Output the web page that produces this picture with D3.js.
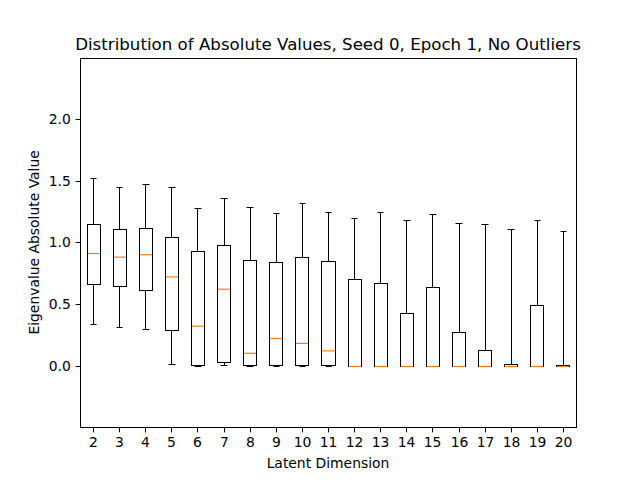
<!DOCTYPE html>
<html lang="en">
<head>
<meta charset="UTF-8">
<title>Distribution of Absolute Values</title>
<script src="https://d3js.org/d3.v7.min.js"></script>
<style>
  html, body { margin: 0; padding: 0; background: #fff; }
  text { font-family: "DejaVu Sans", sans-serif; fill: #000; }
</style>
</head>
<body>
<svg id="chart" width="640" height="480"></svg>
<script>
// latent dimensions on the x axis
const dims = [2, 3, 4, 5, 6, 7, 8, 9, 10, 11, 12, 13, 14, 15, 16, 17, 18, 19, 20];
// box statistics
const whiskerHigh = [1.52, 1.45, 1.47, 1.45, 1.28, 1.36, 1.29, 1.24, 1.32, 1.25, 1.20, 1.25, 1.18, 1.23, 1.16, 1.15, 1.11, 1.18, 1.09];
const q3          = [1.15, 1.11, 1.12, 1.04, 0.93, 0.98, 0.86, 0.84, 0.88, 0.85, 0.70, 0.67, 0.43, 0.64, 0.27, 0.13, 0.014, 0.49, 0.006];
const medians     = [0.91, 0.88, 0.90, 0.72, 0.32, 0.62, 0.10, 0.22, 0.18, 0.12, 0, 0, 0, 0, 0, 0, 0, 0, 0];
const q1          = [0.66, 0.65, 0.61, 0.29, 0.005, 0.03, 0.003, 0.003, 0.003, 0.001, 0, 0, 0, 0, 0, 0, 0, 0, 0];
const whiskerLow  = [0.34, 0.31, 0.30, 0.01, 0, 0.005, 0, 0, 0, 0, 0, 0, 0, 0, 0, 0, 0, 0, 0];
const yTicks = [0.0, 0.5, 1.0, 1.5, 2.0];

const svg = d3.select("#chart");
const margin = {left: 80, right: 64, top: 57.6, bottom: 52.8};
const W = 640, H = 480;

const x = d3.scaleLinear().domain([0.5, dims.length + 0.5]).range([margin.left, W - margin.right]);
const y = d3.scaleLinear().domain([-0.5, 2.5]).range([H - margin.bottom, margin.top]);
// snap to pixel centres so 1px black lines stay sharp
const px = v => Math.round(x(v)) + 0.5;
const py = v => Math.round(y(v)) + 0.5;

const boxes = dims.map((d, i) => ({
  dim: d, pos: i + 1,
  lo: whiskerLow[i], q1: q1[i], med: medians[i], q3: q3[i], hi: whiskerHigh[i]
}));

const boxW = 0.5, capW = 0.25;

const g = svg.append("g");

// whiskers
g.selectAll("line.wlow").data(boxes).join("line")
  .attr("x1", d => px(d.pos)).attr("x2", d => px(d.pos))
  .attr("y1", d => py(d.q1)).attr("y2", d => py(d.lo))
  .attr("stroke", "#000").attr("stroke-width", 1);
g.selectAll("line.whigh").data(boxes).join("line")
  .attr("x1", d => px(d.pos)).attr("x2", d => px(d.pos))
  .attr("y1", d => py(d.q3)).attr("y2", d => py(d.hi))
  .attr("stroke", "#000").attr("stroke-width", 1);

// caps
["lo", "hi"].forEach(k => {
  g.selectAll("line.cap" + k).data(boxes).join("line")
    .attr("x1", d => px(d.pos - capW / 2)).attr("x2", d => px(d.pos + capW / 2))
    .attr("y1", d => py(d[k])).attr("y2", d => py(d[k]))
    .attr("stroke", "#000").attr("stroke-width", 1);
});

// boxes
g.selectAll("rect.box").data(boxes).join("rect")
  .attr("x", d => px(d.pos - boxW / 2))
  .attr("width", d => px(d.pos + boxW / 2) - px(d.pos - boxW / 2))
  .attr("y", d => py(d.q3))
  .attr("height", d => py(d.q1) - py(d.q3))
  .attr("fill", "none").attr("stroke", "#000").attr("stroke-width", 1);

// medians
g.selectAll("line.med").data(boxes).join("line")
  .attr("x1", d => px(d.pos - boxW / 2) + 0.5).attr("x2", d => px(d.pos + boxW / 2) - 0.5)
  .attr("y1", d => d.med === 0 ? py(0) : y(d.med))
  .attr("y2", d => d.med === 0 ? py(0) : y(d.med))
  .attr("stroke", "#ff7f0e").attr("stroke-width", 1.2);

// frame
svg.append("rect")
  .attr("x", Math.round(margin.left) + 0.5).attr("y", Math.round(margin.top) + 0.5)
  .attr("width", Math.round(W - margin.right) - Math.round(margin.left))
  .attr("height", Math.round(H - margin.bottom) - Math.round(margin.top))
  .attr("fill", "none").attr("stroke", "#000").attr("stroke-width", 1);

// x axis
const xAxis = svg.append("g")
  .attr("transform", `translate(0,${Math.round(H - margin.bottom) + 0.5})`)
  .call(d3.axisBottom(x).tickValues(boxes.map(d => d.pos))
    .tickFormat((v, i) => dims[i]).tickSize(4.86).tickPadding(4.86).offset(0));
xAxis.select(".domain").remove();
xAxis.selectAll(".tick").attr("transform", d => `translate(${px(d)},0)`);
xAxis.selectAll("line").attr("stroke-width", 1);
xAxis.selectAll("text").style("font-size", "13.9px").style("font-family", "DejaVu Sans, sans-serif");

// y axis
const yAxis = svg.append("g")
  .attr("transform", `translate(${Math.round(margin.left) + 0.5},0)`)
  .call(d3.axisLeft(y).tickValues(yTicks).tickFormat(d3.format(".1f")).tickSize(4.86).tickPadding(4.86).offset(0));
yAxis.select(".domain").remove();
yAxis.selectAll(".tick").attr("transform", d => `translate(0,${py(d)})`);
yAxis.selectAll("line").attr("stroke-width", 1);
yAxis.selectAll("text").style("font-size", "13.9px").style("font-family", "DejaVu Sans, sans-serif");

// title and labels
svg.append("text")
  .attr("x", (margin.left + W - margin.right) / 2).attr("y", 49.5)
  .attr("text-anchor", "middle").style("font-size", "16.67px")
  .text("Distribution of Absolute Values, Seed 0, Epoch 1, No Outliers");

svg.append("text")
  .attr("x", (margin.left + W - margin.right) / 2).attr("y", 468)
  .attr("text-anchor", "middle").style("font-size", "13.9px")
  .text("Latent Dimension");

svg.append("text")
  .attr("transform", `translate(39,${(margin.top + H - margin.bottom) / 2}) rotate(-90)`)
  .attr("text-anchor", "middle").style("font-size", "13.9px")
  .text("Eigenvalue Absolute Value");
</script>
</body>
</html>
